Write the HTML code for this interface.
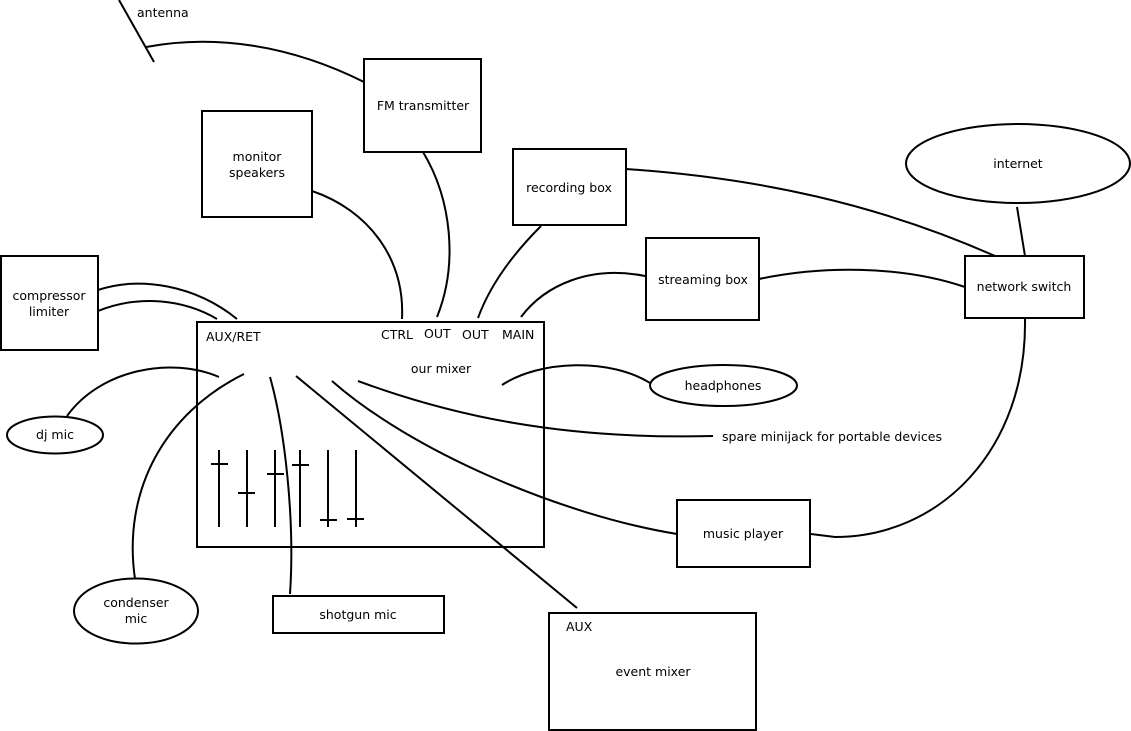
<!DOCTYPE html>
<html><head><meta charset="utf-8"><style>
html,body{margin:0;padding:0;background:#fff;}
svg{display:block;}
text{font-family:"DejaVu Sans","Liberation Sans",sans-serif;font-size:12.5px;fill:#000;}
</style></head><body>
<svg width="1131" height="731" viewBox="0 0 1131 731" xmlns="http://www.w3.org/2000/svg">
<g fill="none" stroke="#000" stroke-width="2">
<!-- boxes -->
<rect x="364" y="59" width="117" height="93"/>
<rect x="202" y="111" width="110" height="106"/>
<rect x="1" y="256" width="97" height="94"/>
<rect x="513" y="149" width="113" height="76"/>
<rect x="646" y="238" width="113" height="82"/>
<rect x="965" y="256" width="119" height="62"/>
<ellipse cx="1018" cy="163.5" rx="112" ry="39.5"/>
<ellipse cx="723.5" cy="385.5" rx="73.5" ry="20.5"/>
<ellipse cx="55" cy="435" rx="48" ry="18.5"/>
<ellipse cx="136" cy="611" rx="62" ry="32.5"/>
<rect x="273" y="596" width="171" height="37"/>
<rect x="677" y="500" width="133" height="67"/>
<rect x="549" y="613" width="207" height="117"/>
<rect x="197" y="322" width="347" height="225"/>
<!-- faders -->
<path d="M219,450 V527 M211,464 H228"/>
<path d="M247,450 V527 M238,493 H255"/>
<path d="M275,450 V527 M267,474 H284"/>
<path d="M300,450 V527 M292,465 H309"/>
<path d="M328,450 V527 M320,520 H337"/>
<path d="M356,450 V527 M347,519 H364"/>
<!-- antenna -->
<path d="M119,0 L154,62"/>
<path d="M146,47 C 215,34 290,45 364,82"/>
<!-- top connectors -->
<path d="M423,152 C 452,200 458,265 437,317"/>
<path d="M312,191 C 368,210 405,258 402,319"/>
<path d="M98,290 C 140,276 195,285 237,319"/>
<path d="M98,311 C 140,294 185,300 217,319"/>
<path d="M541,226 C 512,255 490,285 478,318"/>
<path d="M645,276 C 590,265 545,285 521,317"/>
<path d="M626,169 C 760,178 880,205 995,256"/>
<path d="M759,279 C 820,266 900,265 965,287"/>
<path d="M1017,207 L1025,256"/>
<path d="M1025,319 C 1027,450 940,537 835,537 L811,534"/>
<!-- mixer internal connectors -->
<path d="M67,416 C 100,370 170,356 219,377"/>
<path d="M135,579 C 122,490 165,413 244,374"/>
<path d="M270,377 C 285,430 295,520 290,594"/>
<path d="M296,376 L577,608"/>
<path d="M332,381 C 410,450 560,515 677,534"/>
<path d="M358,381 C 450,415 560,440 713,436"/>
<path d="M502,385 C 540,360 610,358 650,383"/>
</g>
<!-- labels -->
<text x="137" y="17">antenna</text>
<text x="423" y="110" text-anchor="middle">FM transmitter</text>
<text x="257" y="161" text-anchor="middle">monitor</text>
<text x="257" y="177" text-anchor="middle">speakers</text>
<text x="49" y="300" text-anchor="middle">compressor</text>
<text x="49" y="316" text-anchor="middle">limiter</text>
<text x="569" y="192" text-anchor="middle">recording box</text>
<text x="703" y="284" text-anchor="middle">streaming box</text>
<text x="1024" y="291" text-anchor="middle">network switch</text>
<text x="1018" y="168" text-anchor="middle">internet</text>
<text x="723" y="390" text-anchor="middle">headphones</text>
<text x="722" y="441">spare minijack for portable devices</text>
<text x="441" y="373" text-anchor="middle">our mixer</text>
<text x="206" y="341">AUX/RET</text>
<text x="381" y="339">CTRL</text>
<text x="424" y="338">OUT</text>
<text x="462" y="339">OUT</text>
<text x="502" y="339">MAIN</text>
<text x="55" y="439" text-anchor="middle">dj mic</text>
<text x="136" y="607" text-anchor="middle">condenser</text>
<text x="136" y="623" text-anchor="middle">mic</text>
<text x="358" y="619" text-anchor="middle">shotgun mic</text>
<text x="743" y="538" text-anchor="middle">music player</text>
<text x="566" y="631">AUX</text>
<text x="653" y="676" text-anchor="middle">event mixer</text>
</svg>
</body></html>
